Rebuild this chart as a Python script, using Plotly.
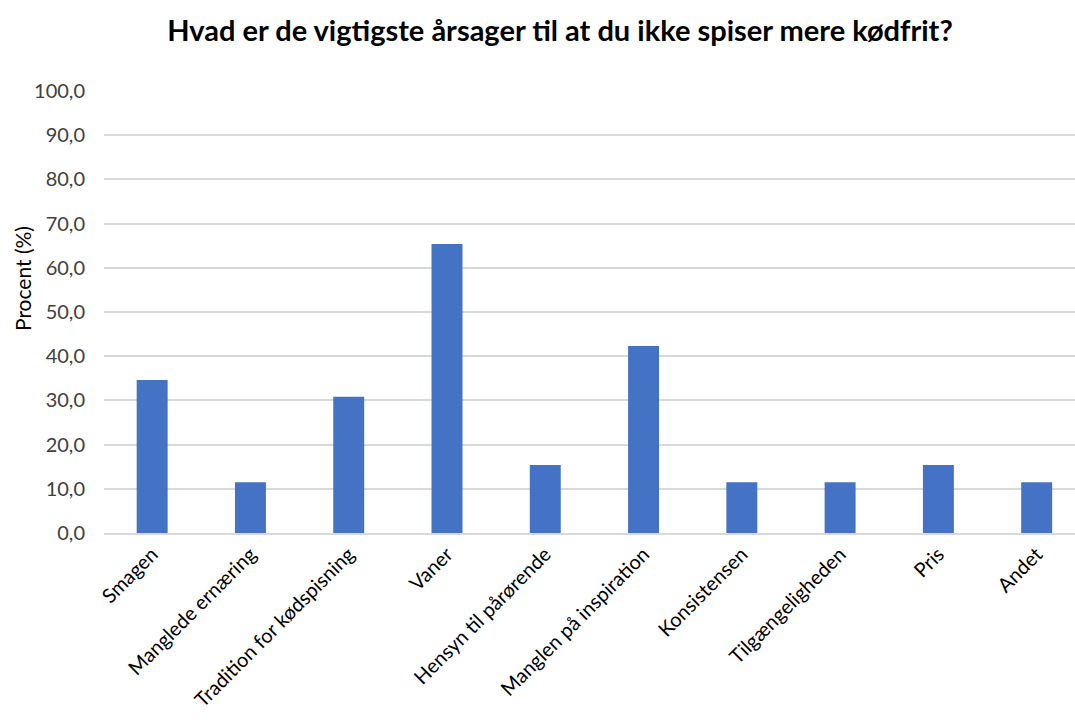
import plotly.graph_objects as go

categories = ["Smagen", "Manglede ernæring", "Tradition for kødspisning", "Vaner",
              "Hensyn til pårørende", "Manglen på inspiration", "Konsistensen",
              "Tilgængeligheden", "Pris", "Andet"]
values = [34.6, 11.5, 30.8, 65.4, 15.4, 42.3, 11.5, 11.5, 15.4, 11.5]
y_ticks = [0, 10, 20, 30, 40, 50, 60, 70, 80, 90, 100]

W, H = 1075, 722
L, R, T, B = 104, 0, 91, 189

fig = go.Figure(go.Bar(
    x=categories, y=values,
    marker=dict(color="#4472C4", line=dict(width=0)),
    width=0.315,
))

fig.update_layout(
    width=W, height=H,
    margin=dict(l=L, r=R, t=T, b=B, autoexpand=False),
    paper_bgcolor="white", plot_bgcolor="white",
    separators=",.",
    font=dict(family="Lato, Open Sans, sans-serif", color="#595959"),
    showlegend=False,
    title=dict(
        text="<b>Hvad er de vigtigste årsager til at du ikke spiser mere kødfrit?</b>",
        x=560 / W, xanchor="center", y=1 - 31 / H, yanchor="middle",
        font=dict(size=29, color="#000000", family="Lato, Open Sans, sans-serif"),
    ),
    xaxis=dict(
        range=[-0.49, 9.39],
        tickangle=-45,
        tickfont=dict(size=20, color="#000000"),
        showgrid=False,
        showline=True, linecolor="#d9d9d9", linewidth=1.5,
        ticks="",
        automargin=False,
    ),
    yaxis=dict(
        range=[0, 100],
        tickvals=y_ticks,
        tickformat=".1f",
        tickfont=dict(size=20, color="#404040"),
        showgrid=True, gridcolor="#d9d9d9", gridwidth=1.5,
        zeroline=False,
        ticks="",
        ticklabelstandoff=18,
        automargin=False,
    ),
    annotations=[dict(
        text="Procent (%)", textangle=-90,
        xref="paper", yref="paper",
        x=(22 - L) / (W - L - R), y=(533 - 279) / (H - T - B),
        xanchor="center", yanchor="middle", showarrow=False,
        font=dict(size=21, color="#000000"),
    )],
)

fig.write_html("out.html")
